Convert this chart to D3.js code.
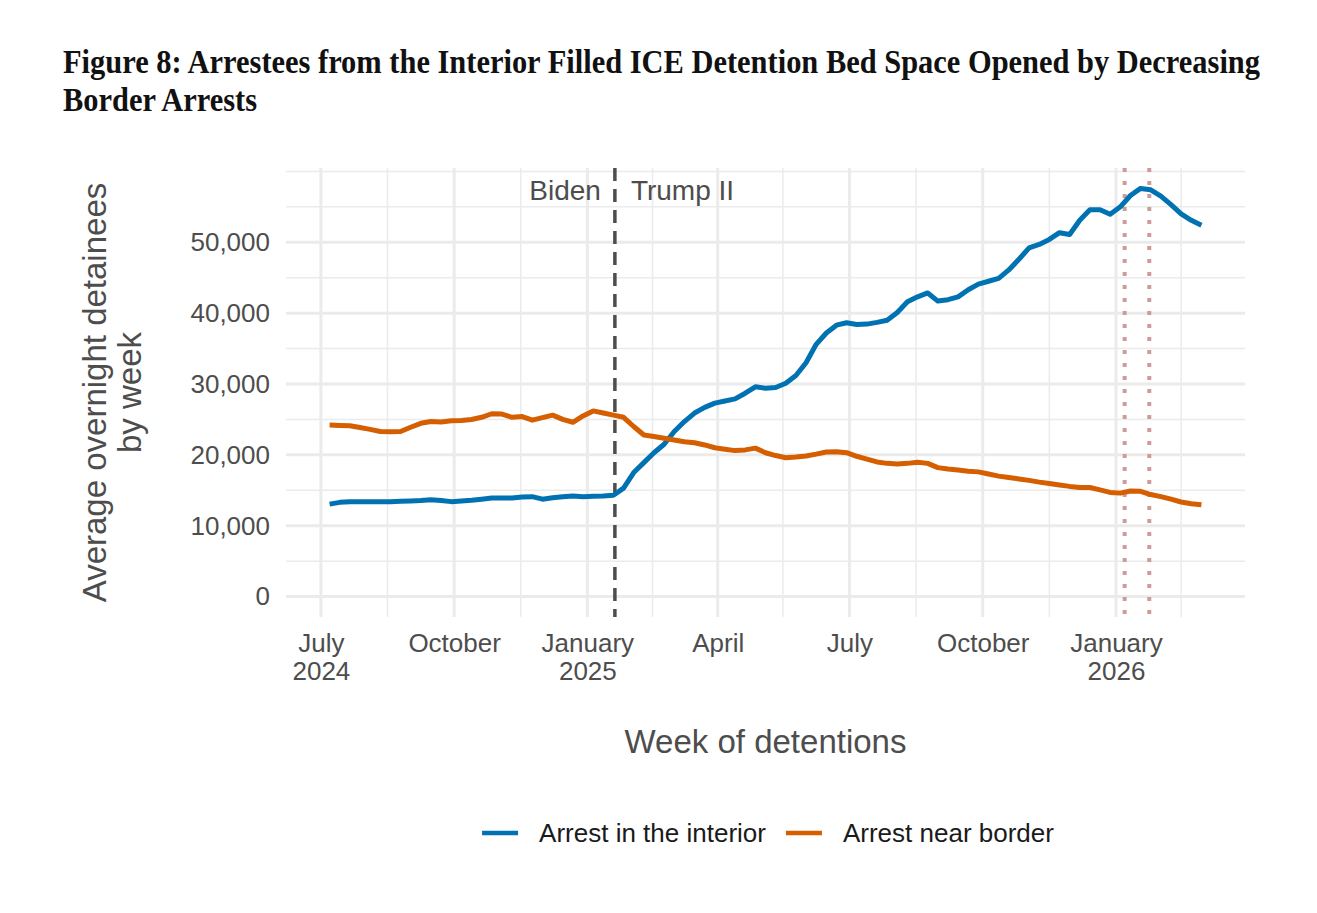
<!DOCTYPE html>
<html lang="en">
<head>
    <meta charset="UTF-8">
    <title>Figure 8</title>
    <style>
        body {
            margin: 0;
            background: #fff;
        }

        svg {
            display: block;
            font-family: "Liberation Sans", Arial, sans-serif;
        }

        .tick text {
            fill: #4d4d4d;
            font-size: 26px;
        }
    </style>
</head>

<body>
    <svg id="chart"></svg>
</body>

<script src="https://cdn.jsdelivr.net/npm/d3@7"></script>

<script>
    // weekly averages, first week Jul 7 2024, last week Mar 1 2026
    const interior = [
        13050, 13300, 13400, 13400, 13400, 13400, 13400, 13450, 13500, 13550,
        13650, 13550, 13400, 13500, 13600, 13750, 13900, 13900, 13900, 14050,
        14100, 13750, 13950, 14100, 14200, 14100, 14150, 14200, 14300, 15300,
        17500, 18900, 20300, 21500, 23300, 24700, 25900, 26700, 27300, 27600,
        27900, 28700, 29600, 29400, 29500, 30100, 31200, 33000, 35600, 37200,
        38300, 38650, 38400, 38450, 38700, 39000, 40100, 41600, 42300, 42850,
        41700, 41900, 42300, 43300, 44100, 44500, 44900, 46100, 47600, 49200,
        49700, 50400, 51350, 51100, 53100, 54600, 54600, 53950, 55000, 56600,
        57600, 57400, 56500, 55300, 54000, 53100, 52400
    ]
    const border = [
        24200, 24150, 24100, 23850, 23600, 23300, 23250, 23300, 23900, 24450,
        24700, 24650, 24800, 24850, 25000, 25300, 25800, 25750, 25300, 25400,
        24900, 25250, 25600, 25000, 24600, 25500, 26200, 25900, 25600, 25300,
        24000, 22800, 22600, 22350, 22100, 21850, 21700, 21400, 21000, 20800,
        20600, 20700, 20950, 20300, 19900, 19600, 19700, 19850, 20100, 20400,
        20450, 20300, 19800, 19400, 19000, 18800, 18700, 18800, 18950, 18800,
        18200, 18000, 17850, 17700, 17600, 17300, 17000, 16800, 16600, 16400,
        16150, 15950, 15750, 15550, 15400, 15400, 15050, 14700, 14600, 14900,
        14850, 14400, 14100, 13750, 13350, 13100, 12950
    ]
    const seriesNames = ["Arrest in the interior", "Arrest near border"]
    const seriesColors = ["#0072B2", "#D55E00"]

    const firstWeek = new Date(Date.UTC(2024, 6, 7))
    const lastWeek = new Date(Date.UTC(2026, 2, 1))

    const yTicks = [0, 10000, 20000, 30000, 40000, 50000]
    const yMinor = [5000, 15000, 25000, 35000, 45000, 55000, 60000]
    const xTicks = ["2024-07-01", "2024-10-01", "2025-01-01", "2025-04-01", "2025-07-01", "2025-10-01", "2026-01-01"]
    const xTickLabels = ["July\n2024", "October", "January\n2025", "April", "July", "October", "January\n2026"]
    const xMinor = ["2024-08-16", "2024-11-16", "2025-02-15", "2025-05-16", "2025-08-16", "2025-11-16", "2026-02-15"]

    const inauguration = "2025-01-20"
    const eventDates = ["2026-01-07", "2026-01-24"]

    const title = ["Figure 8: Arrestees from the Interior Filled ICE Detention Bed Space Opened by Decreasing", "Border Arrests"]

    let width = 1317
    let height = 913
    let panel = { left: 286, right: 1245, top: 168, bottom: 617 }

    let svg = d3.select("#chart")
        .attr("width", width)
        .attr("height", height)

    svg.append("rect").attr("width", width).attr("height", height).attr("fill", "#fff")

    let weeks = d3.utcWeek.range(firstWeek, d3.utcDay.offset(lastWeek, 1))
    let series = [interior, border].map((vals, k) => ({
        name: seriesNames[k],
        color: seriesColors[k],
        values: vals.map((v, i) => ({ date: weeks[i], value: v }))
    }))

    // ggplot-like 5% expansion
    let xSpan = lastWeek - firstWeek
    let xScale = d3.scaleUtc()
        .domain([new Date(+firstWeek - xSpan * 0.05), new Date(+lastWeek + xSpan * 0.05)])
        .range([panel.left, panel.right])

    let yMax = d3.max([...interior, ...border])
    let yScale = d3.scaleLinear()
        .domain([-yMax * 0.05, yMax * 1.05])
        .range([panel.bottom, panel.top])

    let parse = d3.utcParse("%Y-%m-%d")

    // grid
    let grid = svg.append("g").attr("class", "grid").attr("stroke", "#ebebeb")
    grid.selectAll(".ymin").data(yMinor).enter().append("line")
        .attr("x1", panel.left).attr("x2", panel.right)
        .attr("y1", d => yScale(d)).attr("y2", d => yScale(d))
        .attr("stroke-width", 1.5)
    grid.selectAll(".xmin").data(xMinor).enter().append("line")
        .attr("x1", d => xScale(parse(d))).attr("x2", d => xScale(parse(d)))
        .attr("y1", panel.top).attr("y2", panel.bottom)
        .attr("stroke-width", 1.5)
    grid.selectAll(".ymaj").data(yTicks).enter().append("line")
        .attr("x1", panel.left).attr("x2", panel.right)
        .attr("y1", d => yScale(d)).attr("y2", d => yScale(d))
        .attr("stroke-width", 3)
    grid.selectAll(".xmaj").data(xTicks).enter().append("line")
        .attr("x1", d => xScale(parse(d))).attr("x2", d => xScale(parse(d)))
        .attr("y1", panel.top).attr("y2", panel.bottom)
        .attr("stroke-width", 3)

    // reference lines
    svg.selectAll(".event").data(eventDates).enter().append("line")
        .attr("x1", d => xScale(parse(d))).attr("x2", d => xScale(parse(d)))
        .attr("y1", panel.top).attr("y2", panel.bottom)
        .attr("stroke", "#cf9a9a")
        .attr("stroke-width", 4)
        .attr("stroke-dasharray", "4,9")

    let xInaug = xScale(parse(inauguration))
    svg.append("line")
        .attr("x1", xInaug).attr("x2", xInaug)
        .attr("y1", panel.top).attr("y2", panel.bottom)
        .attr("stroke", "#4d4d4d")
        .attr("stroke-width", 3.5)
        .attr("stroke-dasharray", "13,8")

    // data lines
    let lineGenerator = d3.line()
        .x(d => xScale(d.date))
        .y(d => yScale(d.value))

    svg.append("g").selectAll("path").data(series).enter().append("path")
        .attr("d", d => lineGenerator(d.values))
        .attr("fill", "none")
        .attr("stroke", d => d.color)
        .attr("stroke-width", 5)
        .attr("stroke-linejoin", "round")

    // annotations
    svg.append("text").attr("x", xInaug - 14).attr("y", 200)
        .attr("text-anchor", "end").attr("font-size", 28).attr("fill", "#4d4d4d")
        .text("Biden")
    svg.append("text").attr("x", xInaug + 16).attr("y", 200)
        .attr("font-size", 28).attr("fill", "#4d4d4d")
        .text("Trump II")

    // axes
    let yAxis = svg.append("g")
        .attr("transform", `translate(${panel.left},0)`)
        .call(d3.axisLeft(yScale).tickValues(yTicks).tickFormat(d3.format(",")).tickSize(0).tickPadding(16))
    yAxis.select(".domain").remove()

    let xAxis = svg.append("g")
        .attr("transform", `translate(0,${panel.bottom})`)
        .call(d3.axisBottom(xScale).tickValues(xTicks.map(parse)).tickSize(0).tickPadding(16.5))
    xAxis.select(".domain").remove()
    xAxis.selectAll(".tick text").each(function (d, i) {
        let t = d3.select(this).text(null).attr("dy", null)
        xTickLabels[i].split("\n").forEach((line, j) => {
            t.append("tspan").attr("x", 0).attr("dy", j === 0 ? "0.71em" : "1.08em").text(line)
        })
    })

    // axis titles
    svg.append("text")
        .attr("x", (panel.left + panel.right) / 2).attr("y", 753)
        .attr("text-anchor", "middle").attr("font-size", 33).attr("fill", "#4d4d4d")
        .text("Week of detentions")

    let yTitle = svg.append("text")
        .attr("transform", `translate(106,${(panel.top + panel.bottom) / 2}) rotate(-90)`)
        .attr("text-anchor", "middle").attr("font-size", 33).attr("fill", "#4d4d4d")
    yTitle.append("tspan").attr("x", 0).attr("dy", 0).text("Average overnight detainees")
    yTitle.append("tspan").attr("x", 0).attr("dy", 35).text("by week")

    // title
    svg.append("g").selectAll("text").data(title).enter().append("text")
        .attr("x", 63)
        .attr("y", (d, i) => 73 + i * 38)
        .attr("font-family", "'Liberation Serif', 'DejaVu Serif', serif")
        .attr("font-weight", "bold")
        .attr("font-size", 34)
        .attr("fill", "#111")
        .attr("textLength", (d, i) => i === 0 ? 1197 : 194)
        .attr("lengthAdjust", "spacingAndGlyphs")
        .text(d => d)

    // legend
    let legend = svg.append("g")
    let items = legend.selectAll("g").data(series).enter().append("g")
    items.append("line")
        .attr("x1", 0).attr("x2", 36).attr("y1", 833).attr("y2", 833)
        .attr("stroke", d => d.color).attr("stroke-width", 4.5)
    items.append("text")
        .attr("x", 57).attr("y", 842)
        .attr("font-size", 26).attr("fill", "#1a1a1a")
        .text(d => d.name)

    let offset = 0
    items.each(function () {
        let w = 57 + d3.select(this).select("text").node().getComputedTextLength()
        d3.select(this).attr("transform", `translate(${offset},0)`)
        offset += w + 20
    })
    let legendWidth = offset - 20
    legend.attr("transform", `translate(${768 - legendWidth / 2},0)`)
</script>

</html>
